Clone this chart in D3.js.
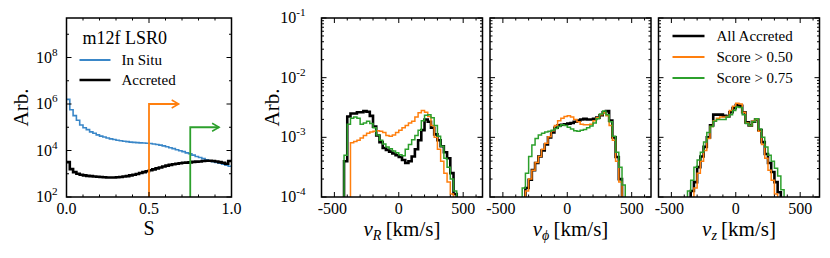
<!DOCTYPE html>
<html>
<head>
<meta charset="utf-8">
<script src="https://cdn.jsdelivr.net/npm/d3@7"></script>
<style>
  body { margin: 0; background: #fff; }
  svg, svg text, svg tspan { font-family: "Liberation Serif", "Times New Roman", serif; fill: #000; }
</style>
</head>
<body>
<script>
// chart data (log10 of the histogram heights)

var sEdges = [0,0.02,0.04,0.06,0.08,0.1,0.12,0.14,0.16,0.18,0.2,0.22,0.24,0.26,0.28,0.3,0.32,0.34,0.36,0.38,
  0.4,0.42,0.44,0.46,0.48,0.5,0.52,0.54,0.56,0.58,0.6,0.62,0.64,0.66,0.68,0.7,0.72,0.74,0.76,0.78,
  0.8,0.82,0.84,0.86,0.88,0.9,0.92,0.94,0.96,0.98,1.0];

var inSituLog = [6.2,5.75,5.5,5.3,5.1,4.98,4.9,4.8,4.74,4.67,4.62,4.58,4.54,4.5,4.47,4.44,4.42,4.4,4.38,4.36,
  4.35,4.34,4.33,4.32,4.31,4.3,4.28,4.26,4.23,4.2,4.16,4.12,4.08,4.03,3.99,3.95,3.9,3.86,3.8,3.74,
  3.7,3.65,3.6,3.56,3.52,3.49,3.45,3.41,3.37,3.32];

var accretedLog = [3.5,3.2,3.07,3.0,2.96,2.93,2.91,2.9,2.88,2.87,2.86,2.85,2.84,2.84,2.84,2.85,2.86,2.88,2.9,2.93,
  2.96,2.99,3.03,3.07,3.11,3.15,3.19,3.23,3.27,3.31,3.35,3.38,3.41,3.43,3.45,3.47,3.48,3.49,3.51,3.52,
  3.53,3.55,3.56,3.56,3.55,3.53,3.5,3.47,3.43,3.55];

// score cuts drawn as arrows: [cut, arrow end, arrow height]
var cutOrange = [0.5, 0.68, 1e6];
var cutGreen = [0.75, 0.925, 1e5];

var vEdges = [-475,-450,-425,-400,-375,-350,-325,-300,-275,-250,-225,-200,-175,-150,-125,-100,-75,-50,-25,0,
  25,50,75,100,125,150,175,200,225,250,275,300,325,350,375,400,425,450,475];

var vRAll = [-5,-5,-3.4,-2.65,-2.6,-2.6,-2.58,-2.58,-2.56,-2.57,-2.64,-2.82,-2.97,-3.08,-3.18,-3.21,-3.24,-3.27,-3.30,
  -3.33,-3.38,-3.43,-3.40,-3.32,-3.20,-3.05,-2.88,-2.70,-2.74,-2.84,-2.95,-3.05,-3.15,-3.25,-3.35,-3.6,-3.95,-5];
var vRS50 = [-5,-5,-5,-5,-3.09,-3.07,-3.05,-3.01,-2.97,-2.93,-2.91,-2.90,-2.89,-2.90,-2.92,-2.97,-2.98,-2.96,-2.92,
  -2.88,-2.84,-2.80,-2.76,-2.73,-2.66,-2.59,-2.55,-2.58,-2.65,-2.80,-3.0,-3.2,-3.4,-3.6,-3.75,-3.95,-5,-5];
var vRS75 = [-5,-5,-3.3,-2.78,-2.68,-2.66,-2.68,-2.78,-2.76,-2.73,-2.77,-2.84,-2.96,-3.05,-3.11,-3.16,-3.19,-3.23,-3.26,
  -3.29,-3.31,-3.2,-3.12,-3.04,-2.97,-2.88,-2.72,-2.63,-2.62,-2.67,-2.80,-2.98,-3.15,-3.35,-3.5,-3.7,-3.9,-5];

var vPhiAll = [-5,-5,-5,-5,-5,-5,-3.85,-3.71,-3.55,-3.43,-3.32,-3.22,-3.12,-3.0,-2.92,-2.84,-2.80,-2.79,-2.78,
  -2.77,-2.76,-2.74,-2.72,-2.70,-2.69,-2.70,-2.70,-2.69,-2.67,-2.63,-2.58,-2.56,-2.72,-3.0,-3.33,-3.7,-5,-5];
var vPhiS50 = [-5,-5,-5,-5,-5,-5,-3.9,-3.7,-3.55,-3.42,-3.32,-3.2,-3.1,-2.99,-2.89,-2.80,-2.72,-2.68,-2.65,
  -2.64,-2.66,-2.70,-2.74,-2.78,-2.79,-2.79,-2.78,-2.72,-2.67,-2.62,-2.59,-2.64,-2.80,-3.05,-3.40,-3.75,-5,-5];
var vPhiS75 = [-5,-5,-5,-5,-5,-3.85,-3.6,-3.32,-3.13,-3.02,-2.96,-2.93,-2.91,-2.90,-2.88,-2.85,-2.82,-2.79,-2.80,
  -2.83,-2.86,-2.89,-2.90,-2.88,-2.87,-2.84,-2.81,-2.76,-2.69,-2.61,-2.56,-2.62,-2.74,-2.98,-3.25,-3.50,-3.80,-5];

var vZAll = [-5,-5,-5,-5,-5,-3.9,-3.75,-3.5,-3.32,-3.16,-3.0,-2.80,-2.62,-2.62,-2.62,-2.64,-2.65,-2.58,-2.51,
  -2.46,-2.47,-2.58,-2.75,-2.80,-2.74,-2.70,-2.88,-3.08,-3.28,-3.43,-3.58,-3.75,-3.92,-5,-5,-5,-5,-5];
var vZS50 = [-5,-5,-5,-5,-5,-5,-3.85,-3.6,-3.40,-3.22,-3.02,-2.82,-2.72,-2.68,-2.66,-2.66,-2.65,-2.55,-2.48,
  -2.43,-2.44,-2.58,-2.76,-2.80,-2.73,-2.70,-2.90,-3.12,-3.35,-3.55,-3.72,-3.95,-5,-5,-5,-5,-5,-5];
var vZS75 = [-5,-5,-5,-5,-3.9,-3.72,-3.50,-3.38,-3.25,-3.08,-2.92,-2.82,-2.73,-2.70,-2.70,-2.70,-2.66,-2.62,-2.55,
  -2.49,-2.50,-2.62,-2.77,-2.80,-2.74,-2.69,-2.86,-3.0,-3.16,-3.30,-3.40,-3.52,-3.65,-3.88,-5,-5,-5,-5];

var legendLabels = ["All Accreted", "Score > 0.50", "Score > 0.75"];
var colors = ["#000000", "#ff7f0e", "#2ca02c"];
var blue = "#3a87c8";

var serif = "Liberation Serif";

// layout
var svgWidth = 830, svgHeight = 258;
var plotTop = 18, plotBottom = 197;
var h = plotBottom - plotTop;

var svg = d3.select("body").append("svg")
    .attr("width", svgWidth)
    .attr("height", svgHeight)
    .attr("font-family", serif);

var defs = svg.append("defs");

// helpers
function stepPoints(edges, logs) {
    var pts = [];
    for (var i = 0; i < logs.length; i++) {
        pts.push([edges[i], Math.pow(10, logs[i])]);
    }
    pts.push([edges[edges.length - 1], Math.pow(10, logs[logs.length - 1])]);
    return pts;
}

function powLabel(sel, x, y, exp, size) {
    var t = sel.append("text")
        .attr("x", x).attr("y", y)
        .attr("text-anchor", "end")
        .attr("font-family", serif)
        .attr("font-size", size);
    t.append("tspan").text("10");
    t.append("tspan").attr("dy", -7).attr("font-size", size * 0.7).text(exp);
}

function frame(g, w, hh) {
    g.append("rect")
        .attr("x", 0).attr("y", 0)
        .attr("width", w).attr("height", hh)
        .attr("fill", "none")
        .attr("stroke", "#000")
        .attr("stroke-width", 1.5);
}

// inward ticks on all four sides
function xTicks(g, xScale, hh, major, minor) {
    minor.forEach(function(v) {
        var x = xScale(v);
        g.append("line").attr("x1", x).attr("x2", x).attr("y1", hh).attr("y2", hh - 2.5).attr("stroke", "#000");
        g.append("line").attr("x1", x).attr("x2", x).attr("y1", 0).attr("y2", 2.5).attr("stroke", "#000");
    });
    major.forEach(function(v) {
        var x = xScale(v);
        g.append("line").attr("x1", x).attr("x2", x).attr("y1", hh).attr("y2", hh - 5).attr("stroke", "#000");
        g.append("line").attr("x1", x).attr("x2", x).attr("y1", 0).attr("y2", 5).attr("stroke", "#000");
    });
}

function yTicks(g, yScale, w, major, minor) {
    minor.forEach(function(v) {
        var y = yScale(v);
        g.append("line").attr("x1", 0).attr("x2", 2.5).attr("y1", y).attr("y2", y).attr("stroke", "#000");
        g.append("line").attr("x1", w).attr("x2", w - 2.5).attr("y1", y).attr("y2", y).attr("stroke", "#000");
    });
    major.forEach(function(v) {
        var y = yScale(v);
        g.append("line").attr("x1", 0).attr("x2", 5).attr("y1", y).attr("y2", y).attr("stroke", "#000");
        g.append("line").attr("x1", w).attr("x2", w - 5).attr("y1", y).attr("y2", y).attr("stroke", "#000");
    });
}

// ---------- panel 1: score distribution ----------
var p1Left = 66.5, p1Width = 165;

var xS = d3.scaleLinear().domain([0, 1]).range([0, p1Width]);
var yS = d3.scaleLog().domain([1e2, 5e9]).range([h, 0]);

var g1 = svg.append("g").attr("transform", `translate(${p1Left}, ${plotTop})`);

defs.append("clipPath").attr("id", "clip1")
    .append("rect").attr("width", p1Width).attr("height", h);

var lineS = d3.line()
    .x(d => xS(d[0]))
    .y(d => yS(d[1]))
    .curve(d3.curveStepAfter);

var plot1 = g1.append("g").attr("clip-path", "url(#clip1)");

plot1.append("path")
    .attr("d", lineS(stepPoints(sEdges, inSituLog)))
    .attr("fill", "none").attr("stroke", blue).attr("stroke-width", 1.6);

plot1.append("path")
    .attr("d", lineS(stepPoints(sEdges, accretedLog)))
    .attr("fill", "none").attr("stroke", "#000").attr("stroke-width", 2.6);

// arrows for the score cuts
[[cutOrange, colors[1]], [cutGreen, colors[2]]].forEach(function(c) {
    var cut = c[0], col = c[1];
    var x0 = xS(cut[0]), x1 = xS(cut[1]), y1 = yS(cut[2]);
    plot1.append("path")
        .attr("d", `M${x0},${h}V${y1}H${x1}`)
        .attr("fill", "none").attr("stroke", col).attr("stroke-width", 1.8);
    plot1.append("path")
        .attr("d", `M${x1 - 7},${y1 - 4}L${x1},${y1}L${x1 - 7},${y1 + 4}`)
        .attr("fill", "none").attr("stroke", col).attr("stroke-width", 1.5);
});

frame(g1, p1Width, h);
xTicks(g1, xS, h, [0, 0.5, 1], [0.1, 0.2, 0.3, 0.4, 0.6, 0.7, 0.8, 0.9]);
yTicks(g1, yS, p1Width, [1e2, 1e4, 1e6, 1e8], [1e3, 1e5, 1e7, 1e9]);

["0.0", "0.5", "1.0"].forEach(function(t, i) {
    g1.append("text")
        .attr("x", xS([0, 0.5, 1][i])).attr("y", h + 17)
        .attr("text-anchor", "middle").attr("font-size", 16)
        .attr("font-family", serif)
        .text(t);
});
[2, 4, 6, 8].forEach(function(e) {
    powLabel(g1, -9, yS(Math.pow(10, e)) + 5, e, 16);
});

g1.append("text")
    .attr("x", xS(0.5)).attr("y", h + 38)
    .attr("text-anchor", "middle").attr("font-size", 20)
    .attr("font-family", serif)
    .text("S");

g1.append("text")
    .attr("transform", `translate(${-39}, ${h / 2}) rotate(-90)`)
    .attr("text-anchor", "middle").attr("font-size", 21)
    .attr("font-family", serif)
    .text("Arb.");

// legend panel 1
g1.append("text")
    .attr("x", 16).attr("y", 26)
    .attr("font-size", 18)
    .attr("font-family", serif)
    .text("m12f LSR0");
g1.append("line").attr("x1", 13).attr("x2", 44).attr("y1", 42).attr("y2", 42)
    .attr("stroke", blue).attr("stroke-width", 2);
g1.append("text").attr("x", 55).attr("y", 47).attr("font-size", 15)
    .attr("font-family", serif).text("In Situ");
g1.append("line").attr("x1", 13).attr("x2", 44).attr("y1", 62).attr("y2", 62)
    .attr("stroke", "#000").attr("stroke-width", 2.5);
g1.append("text").attr("x", 55).attr("y", 67).attr("font-size", 15)
    .attr("font-family", serif).text("Accreted");

// ---------- velocity panels ----------
var panelLefts = [321.5, 490, 658.5];
var panelWidth = 161;
var panels = [
    { name: "R", series: [vRAll, vRS50, vRS75] },
    { name: "\u03d5", series: [vPhiAll, vPhiS50, vPhiS75] },
    { name: "z", series: [vZAll, vZS50, vZS75] }
];

var xV = d3.scaleLinear().domain([-600, 650]).range([0, panelWidth]);
var yV = d3.scaleLog().domain([1e-4, 1e-1]).range([h, 0]);

defs.append("clipPath").attr("id", "clipV")
    .append("rect").attr("width", panelWidth).attr("height", h);

var lineV = d3.line()
    .x(d => xV(d[0]))
    .y(d => yV(d[1]))
    .curve(d3.curveStepAfter);

var yMinor = [];
[1e-4, 1e-3, 1e-2].forEach(function(d) {
    for (var k = 2; k <= 9; k++) yMinor.push(d * k);
});

panels.forEach(function(p, pi) {
    var g = svg.append("g").attr("transform", `translate(${panelLefts[pi]}, ${plotTop})`);
    var plot = g.append("g").attr("clip-path", "url(#clipV)");

    p.series.forEach(function(s, si) {
        plot.append("path")
            .attr("d", lineV(stepPoints(vEdges, s)))
            .attr("fill", "none")
            .attr("stroke", colors[si])
            .attr("stroke-width", si == 0 ? 2.6 : 1.5);
    });

    frame(g, panelWidth, h);
    xTicks(g, xV, h, [-500, 0, 500], [-400, -300, -200, -100, 100, 200, 300, 400, 600]);
    yTicks(g, yV, panelWidth, [1e-4, 1e-3, 1e-2, 1e-1], yMinor);

    [-500, 0, 500].forEach(function(v) {
        g.append("text")
            .attr("x", xV(v) + (v < 0 ? -2 : 0)).attr("y", h + 17)
            .attr("text-anchor", "middle").attr("font-size", 16)
            .attr("font-family", serif)
            .text(v < 0 ? "-" + Math.abs(v) : v);
    });

    // axis label: v_R [km/s]
    var lab = g.append("text")
        .attr("x", panelWidth / 2).attr("y", h + 39)
        .attr("text-anchor", "middle").attr("font-size", 21)
        .attr("font-family", serif);
    lab.append("tspan").attr("font-style", "italic").attr("font-family", serif).text("v");
    lab.append("tspan").attr("font-style", "italic").attr("font-family", serif)
        .attr("font-size", 14).attr("dy", 4).text(p.name);
    lab.append("tspan").attr("dy", -4).attr("font-family", serif).text("\u2009[km/s]");

    if (pi == 0) {
        [-4, -3, -2, -1].forEach(function(e) {
            powLabel(g, -16, yV(Math.pow(10, e)) + 5, e, 16);
        });
        g.append("text")
            .attr("transform", `translate(${-43}, ${h / 2}) rotate(-90)`)
            .attr("text-anchor", "middle").attr("font-size", 21)
            .attr("font-family", serif)
            .text("Arb.");
    }

    if (pi == 2) {
        legendLabels.forEach(function(l, i) {
            var y = 18 + i * 21;
            g.append("line")
                .attr("x1", 14).attr("x2", 46).attr("y1", y).attr("y2", y)
                .attr("stroke", colors[i]).attr("stroke-width", i == 0 ? 2.5 : 2);
            g.append("text")
                .attr("x", 58).attr("y", y + 5)
                .attr("font-size", 15)
                .attr("font-family", serif)
                .text(l);
        });
    }
});
</script>
</body>
</html>
